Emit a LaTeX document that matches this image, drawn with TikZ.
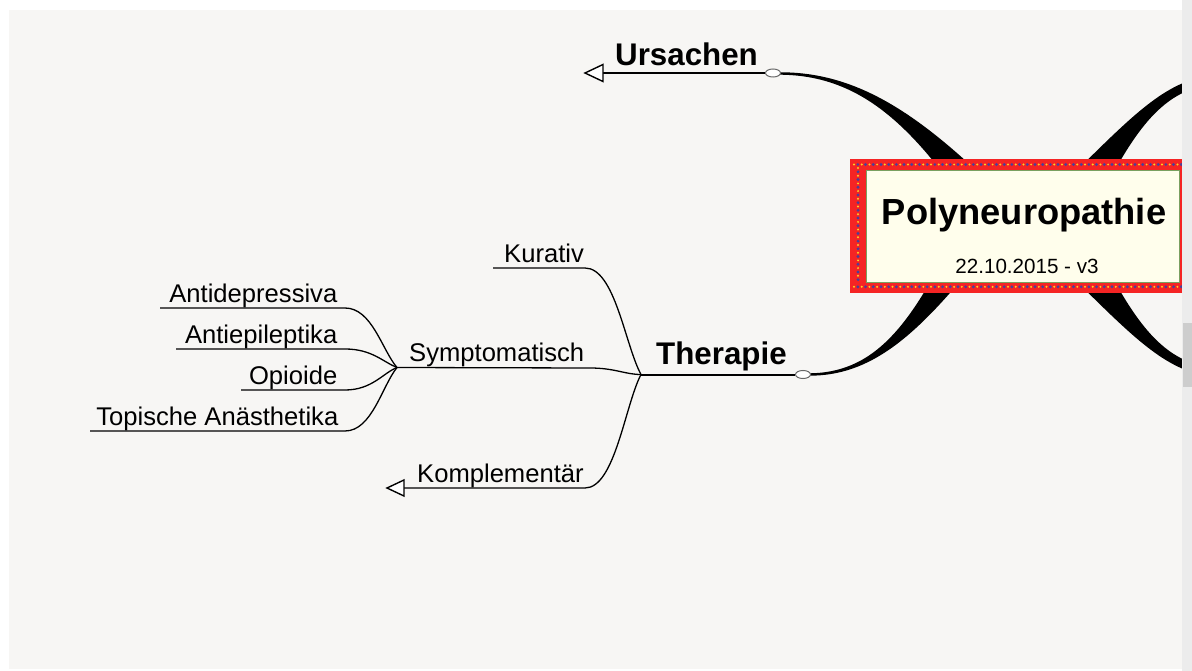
\documentclass[tikz,border=0pt]{standalone}
\usepackage{fontspec}
\setmainfont{Liberation Sans}
\usetikzlibrary{shapes.geometric}
\definecolor{canvas}{HTML}{F7F6F4}
\definecolor{boxred}{HTML}{F52424}
\definecolor{cream}{HTML}{FFFEEC}
\definecolor{dotblue}{HTML}{4A3F9A}
\definecolor{dotyel}{HTML}{FFD21E}
\definecolor{edgegreen}{HTML}{7AA060}
\definecolor{sbar}{HTML}{ECECEC}
\definecolor{sthumb}{HTML}{CDCDCD}
\begin{document}
\begin{tikzpicture}[x=1pt,y=-1pt,
  thinbranch/.style={line width=1.3pt, draw=black},
  mainbranch/.style={line width=2pt, draw=black},
  lbl/.style={inner sep=0pt, font=\fontsize{25.6}{30}\selectfont},
  mainlbl/.style={inner sep=0pt, font=\fontsize{31.3}{36}\selectfont\bfseries},
  knot/.style={ellipse, draw=gray!80!black, fill=white, line width=1pt, minimum width=15pt, minimum height=8pt, inner sep=0pt},
  opentip/.style={draw=black, line width=1.4pt, fill=white, line join=miter},
  ribbon/.style={fill=black, draw=none}
]
\useasboundingbox (0,0) rectangle (1192,671);
\fill[white] (0,0) rectangle (1192,671);
\fill[canvas] (9,10) rectangle (1182,669);

\begin{scope}
\clip (9,10) rectangle (1182,669);
% thick ribbons from the central topic
\fill[ribbon] (778,72.3) .. controls (850,71.5) and (908.8,106.7) .. (981.3,175.2) -- (958.7,194.8) .. controls (901.2,113.3) and (850,74.5) .. (778,74.7) -- cycle;
\fill[ribbon] (810,373.3) .. controls (870,372.5) and (905.8,332.3) .. (947.4,249.8) -- (972.6,266.2) .. controls (914.2,337.7) and (870,375.5) .. (810,375.7) -- cycle;
\fill[ribbon] (1199.2,77.6) .. controls (1157.9,88) and (1125.9,122.1) .. (1063.7,183.4) -- (1096.3,206.6) .. controls (1134.1,127.9) and (1162.1,96) .. (1200.8,86.4) -- cycle;
\fill[ribbon] (1199.2,374.4) .. controls (1157.9,364) and (1125.9,329.9) .. (1063.7,268.6) -- (1096.3,245.4) .. controls (1134.1,324.1) and (1162.1,356) .. (1200.8,365.6) -- cycle;

% central topic
\node[fill=boxred, minimum width=345pt, minimum height=134pt, anchor=north west, inner sep=0pt] (core) at (850,159) {};
\foreach \i in {0,...,42} {
  \fill[dotyel] (854+7.7*\i,164.5) circle (1.1);
  \fill[dotblue] (857.85+7.7*\i,164.5) circle (1.6);
  \fill[dotyel] (854+7.7*\i,286.8) circle (1.1);
  \fill[dotblue] (857.85+7.7*\i,286.8) circle (1.6);
}
\foreach \j in {0,...,14} {
  \fill[dotyel] (858,168+7.7*\j) circle (1.1);
  \fill[dotblue] (858,171.85+7.7*\j) circle (1.6);
}
\node[fill=cream, draw=edgegreen, line width=0.6pt, minimum width=313pt, minimum height=112pt, anchor=north west, inner sep=0pt] (coreIn) at (866,170) {};
\node[inner sep=0pt, anchor=base, font=\fontsize{36.3}{40}\selectfont\bfseries] (title) at (1024,225) {Polyneuropathie};
\node[inner sep=0pt, anchor=base, font=\fontsize{20.6}{24}\selectfont] (date) at (1027,273) {22.10.2015 - v3};
\end{scope}

% Ursachen
\node[mainlbl, anchor=base west] (urs) at (615,66) {Ursachen};
\coordinate (ursTip) at (585,73);
\coordinate (ursBase) at (603,73);
\node[knot] (ursE) at (773,73) {};
\draw[mainbranch] (ursE.west) -- (ursBase);
\draw[opentip] (ursTip) -- ++(18,-8.5) -- ++(0,17) -- cycle;

% Therapie
\coordinate (J) at (641,374.5);
\node[mainlbl, anchor=base west] (ther) at (656,364) {Therapie};
\node[knot] (therE) at (803,374.5) {};
\draw[mainbranch] (J) -- (therE.west);

% Kurativ
\node[lbl, anchor=base west] (kur) at (504,262) {Kurativ};
\coordinate (kurA) at (493,268);
\coordinate (kurB) at (585,268);
\draw[thinbranch] (kurA) -- (kurB) .. controls (615,268) and (625,345) .. (J);

% Symptomatisch
\coordinate (S) at (397,367.5);
\node[lbl, anchor=base west] (sym) at (409,361) {Symptomatisch};
\coordinate (symB) at (590,368);
\draw[thinbranch] (S) -- (symB) .. controls (615,368) and (625,374.5) .. (J);

% Komplementaer
\node[lbl, anchor=base west] (kom) at (417,482) {Komplementär};
\coordinate (komTip) at (387,488);
\coordinate (komBase) at (404,488);
\coordinate (komB) at (585,488);
\draw[thinbranch] (komBase) -- (komB) .. controls (615,488) and (625,405) .. (J);
\draw[opentip] (komTip) -- ++(17,-8) -- ++(0,16) -- cycle;

% sub-branches of Symptomatisch
\node[lbl, anchor=base east] (ad) at (337.5,302) {Antidepressiva};
\coordinate (adA) at (160,308);
\coordinate (adB) at (345,308);
\draw[thinbranch] (adA) -- (adB) .. controls (372,308) and (382,350) .. (S);

\node[lbl, anchor=base east] (ae) at (337.5,343) {Antiepileptika};
\coordinate (aeA) at (176,349);
\coordinate (aeB) at (345,349);
\draw[thinbranch] (aeA) -- (aeB) .. controls (372,349) and (383,362) .. (S);

\node[lbl, anchor=base east] (op) at (337.5,384) {Opioide};
\coordinate (opA) at (241,390);
\coordinate (opB) at (345,390);
\draw[thinbranch] (opA) -- (opB) .. controls (372,390) and (383,373) .. (S);

\node[lbl, anchor=base east] (ta) at (338.5,425) {Topische Anästhetika};
\coordinate (taA) at (90,431);
\coordinate (taB) at (345,431);
\draw[thinbranch] (taA) -- (taB) .. controls (372,431) and (382,386) .. (S);

% scrollbar
\fill[sbar] (1182,0) rectangle (1192,671);
\fill[sthumb] (1183,323) rectangle (1192,387);
\end{tikzpicture}
\end{document}
